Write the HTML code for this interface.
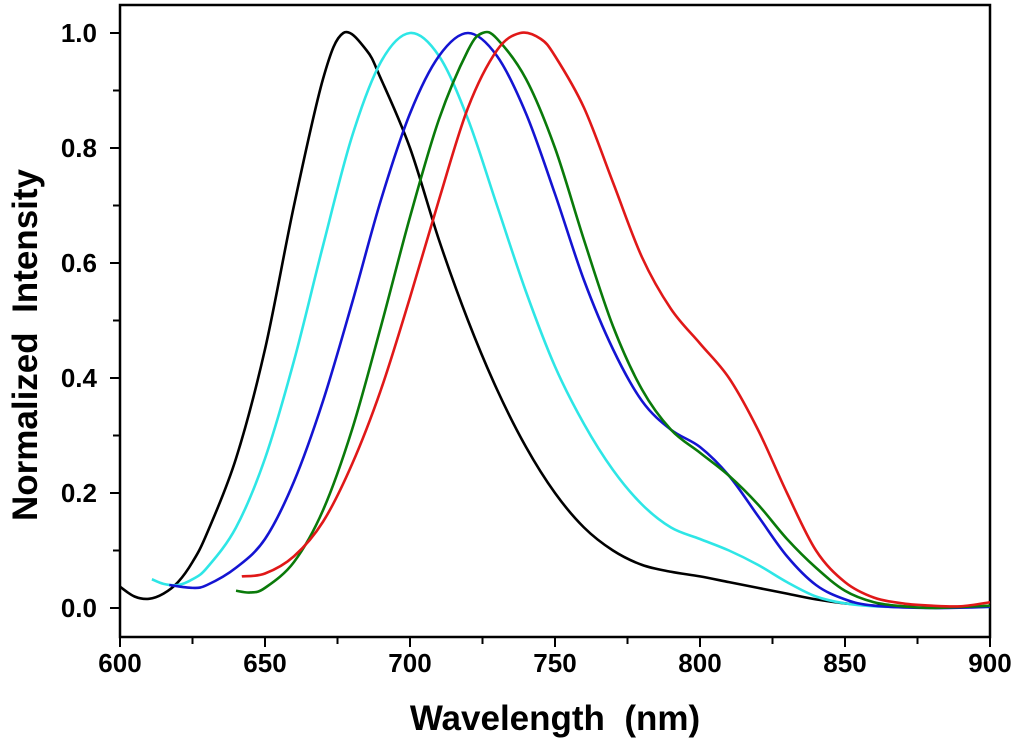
<!DOCTYPE html>
<html><head><meta charset="utf-8"><style>
body{margin:0;background:#fff;}
svg{display:block;font-family:"Liberation Sans",Arial,sans-serif;font-weight:bold;}
</style></head><body>
<svg id="chart" width="1024" height="745" viewBox="0 0 1024 745">
<g id="axes"></g><g id="series"></g>
<text x="555" y="730" font-size="35" text-anchor="middle" xml:space="preserve">Wavelength  (nm)</text>
<text transform="translate(37,345) rotate(-90)" font-size="35" text-anchor="middle" xml:space="preserve">Normalized  Intensity</text>
</svg>
<script>
const xTicks=[600,650,700,750,800,850,900];
const yTicks=[0.0,0.2,0.4,0.6,0.8,1.0];
const blackX=[600,605,610,615,620,625,630,640,650,660,670,677,685,690,700,710,720,730,740,750,760,770,780,790,800,810,820,830,840,850,860,880,900];
const blackY=[0.037,0.02,0.016,0.025,0.045,0.08,0.13,0.26,0.45,0.70,0.92,1.0,0.97,0.92,0.80,0.64,0.50,0.38,0.28,0.20,0.14,0.10,0.075,0.063,0.055,0.045,0.035,0.025,0.015,0.008,0.004,0.002,0.003];
const cyanX=[611,615,620,625,630,640,650,660,670,680,690,700,710,720,730,740,750,760,770,780,790,800,810,820,830,840,850,860,880,900];
const cyanY=[0.05,0.042,0.04,0.05,0.07,0.14,0.26,0.43,0.63,0.82,0.95,1.0,0.96,0.85,0.70,0.55,0.42,0.32,0.24,0.18,0.14,0.12,0.10,0.075,0.045,0.02,0.008,0.003,0.001,0.002];
const blueX=[617,625,630,640,650,660,670,680,690,700,710,720,730,740,750,760,770,780,790,800,810,820,830,840,850,860,880,900];
const blueY=[0.04,0.035,0.04,0.07,0.12,0.22,0.36,0.53,0.71,0.86,0.96,1.0,0.96,0.86,0.72,0.57,0.45,0.36,0.31,0.28,0.23,0.16,0.09,0.04,0.015,0.004,0.0,0.002];
const greenX=[640,645,650,660,670,680,690,700,710,720,725,730,740,750,760,770,780,790,800,810,820,830,840,850,860,870,880,900];
const greenY=[0.03,0.027,0.035,0.08,0.17,0.31,0.49,0.68,0.85,0.97,1.0,0.99,0.92,0.80,0.64,0.49,0.38,0.31,0.27,0.23,0.18,0.12,0.07,0.03,0.01,0.003,0.0,0.004];
const redX=[642,650,660,670,680,690,700,710,720,730,738,745,750,760,770,780,790,800,810,820,830,840,850,860,870,880,890,900];
const redY=[0.055,0.06,0.09,0.15,0.25,0.38,0.54,0.71,0.87,0.97,1.0,0.99,0.96,0.87,0.74,0.61,0.52,0.46,0.40,0.31,0.20,0.10,0.045,0.018,0.008,0.004,0.003,0.01];

const NS="http://www.w3.org/2000/svg";
const X0=120,X1=990,YT=5,YB=637;
function sx(v){return X0+(v-600)/300*(X1-X0);}
function sy(v){return 608-v*575;}
const axes=document.getElementById('axes');
function mk(tag,attrs,parent){const e=document.createElementNS(NS,tag);for(const k in attrs)e.setAttribute(k,attrs[k]);parent.appendChild(e);return e;}
const frame=mk('rect',{x:X0,y:YT,width:X1-X0,height:YB-YT,fill:'none',stroke:'#000','stroke-width':2.5},axes);


for(let v=600;v<=900;v+=25){
  const major=v%50===0;
  const t=mk('line',{x1:sx(v),x2:sx(v),y1:YB,y2:YB+(major?10:7),stroke:'#000','stroke-width':2},axes);
  
  
}
xTicks.forEach(v=>{
  const t=mk('text',{x:sx(v),y:672,'font-size':26,'text-anchor':'middle'},axes);
  t.textContent=String(v);
  
  
});
for(let i=0;i<=10;i++){
  const v=i/10;const major=i%2===0;
  const t=mk('line',{x1:X0,x2:X0-(major?10:7),y1:sy(v),y2:sy(v),stroke:'#000','stroke-width':2},axes);
  
  
}
yTicks.forEach(v=>{
  const t=mk('text',{x:97,y:sy(v)+9,'font-size':26,'text-anchor':'end'},axes);
  t.textContent=v.toFixed(1);
  
  
});
function pathD(xs,ys){
  const p=xs.map((x,i)=>[sx(x),sy(ys[i])]);
  let d='M'+p[0][0]+','+p[0][1];
  for(let i=0;i<p.length-1;i++){
    const p0=p[i-1]||p[i],p1=p[i],p2=p[i+1],p3=p[i+2]||p2;
    const c1=[p1[0]+(p2[0]-p0[0])/6,p1[1]+(p2[1]-p0[1])/6];
    const c2=[p2[0]-(p3[0]-p1[0])/6,p2[1]-(p3[1]-p1[1])/6];
    d+=' C'+c1+' '+c2+' '+p2;
  }
  return d;
}
const ser=document.getElementById('series');
[[blackX,blackY,'#000','black-series'],[cyanX,cyanY,'#2ee6e6','cyan-series'],[blueX,blueY,'#1414d2','blue-series'],[greenX,greenY,'#0a7a0a','green-series'],[redX,redY,'#e01818','red-series']].forEach(s=>{
  const p=mk('path',{d:pathD(s[0],s[1]),fill:'none',stroke:s[2],'stroke-width':2.6},ser);
  
  
});
</script>
</body></html>
